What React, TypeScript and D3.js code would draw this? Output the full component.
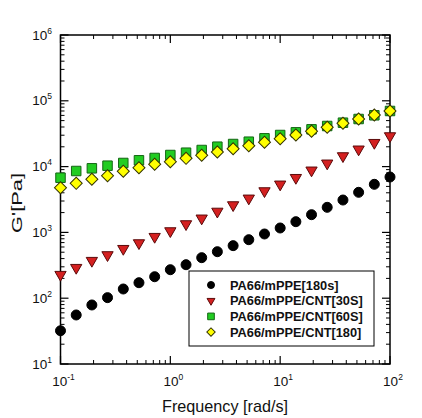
import React from "react";
import * as d3 from "d3";

const freq = [0.1, 0.139, 0.193, 0.268, 0.373, 0.518, 0.72, 1, 1.39, 1.93, 2.68, 3.73, 5.18, 7.2, 10, 13.9, 19.3, 26.8, 37.3, 51.8, 72, 100];

const seriesNames = ["PA66/mPPE[180s]", "PA66/mPPE/CNT[30S]", "PA66/mPPE/CNT[60S]", "PA66/mPPE/CNT[180]"];

const gBlack = [32, 55.6, 78.9, 102, 138, 172, 212, 271, 323, 413, 509, 629, 775, 946, 1167, 1455, 1859, 2405, 3105, 4065, 5380, 6950];
const gRed = [228, 291, 372, 454, 565, 690, 861, 1050, 1342, 1638, 2080, 2608, 3296, 4257, 5380, 6776, 8790, 11230, 14490, 18330, 23070, 29170];
const gGreen = [6776, 8570, 9420, 10320, 11350, 12470, 13520, 15000, 16260, 17870, 20060, 22030, 23890, 26910, 30200, 33190, 36870, 41400, 46490, 52870, 60240, 70000];
const gYellow = [4775, 5570, 6410, 7270, 8490, 9620, 10840, 11870, 13360, 14850, 16670, 18710, 20790, 23400, 26550, 30200, 34420, 39550, 45500, 52870, 60850, 70000];

const xMajor = [0.1, 1, 10, 100];
const xExp = ["-1", "0", "1", "2"];
const yMajor = [10, 100, 1000, 1e4, 1e5, 1e6];
const yExp = ["1", "2", "3", "4", "5", "6"];

const W = 422, H = 418;
const L = 60.5, R = 390, T = 35, B = 364;
const FONT = "'Liberation Sans', Arial, sans-serif";

const x = d3.scaleLog().domain([0.1, 100]).range([L, R]);
const y = d3.scaleLog().domain([10, 1e6]).range([B, T]);

function minors(lo: number, hi: number) {
  const out: number[] = [];
  for (let d = lo; d < hi; d *= 10) for (let k = 2; k <= 9; k++) out.push(d * k);
  return out;
}

type Style = { fill: string; stroke: string; shape: string };
const styles: Style[] = [
  { fill: "#000000", stroke: "#000000", shape: "circle" },
  { fill: "#d42020", stroke: "#5a0a0a", shape: "tri" },
  { fill: "#22cc22", stroke: "#146614", shape: "square" },
  { fill: "#ffff00", stroke: "#333300", shape: "diamond" },
];
const data = [gBlack, gRed, gGreen, gYellow];

function Marker({ cx, cy, st, s }: { cx: number; cy: number; st: Style; s: number }) {
  let path: string;
  if (st.shape === "circle") path = d3.symbol(d3.symbolCircle, Math.PI * (5 * s) ** 2)() as string;
  else if (st.shape === "square") path = d3.symbol(d3.symbolSquare, (9.5 * s) ** 2)() as string;
  else if (st.shape === "diamond") path = d3.symbol(d3.symbolSquare, (8.5 * s) ** 2)() as string;
  else path = d3.symbol(d3.symbolTriangle, 55 * s * s)() as string;
  const rot = st.shape === "diamond" ? 45 : st.shape === "tri" ? 180 : 0;
  return (
    <path
      d={path}
      transform={`translate(${cx},${cy}) rotate(${rot})`}
      fill={st.fill}
      stroke={st.stroke}
      strokeWidth={1}
    />
  );
}

export default function App() {
  const xMin = minors(0.1, 100);
  const yMin = minors(10, 1e6);
  const legX = 189, legY = 271, legW = 185, legH = 75;
  return (
    <svg width={W} height={H} style={{ position: "absolute", left: 0, top: 0, background: "#fff" }} fontFamily={FONT}>
      <rect x={0} y={0} width={W} height={H} fill="#fff" />
      {/* ticks */}
      {xMajor.map((v) => (
        <g key={"xm" + v}>
          <line x1={x(v)} x2={x(v)} y1={B} y2={B - 8} stroke="#000" strokeWidth={1.2} />
          <line x1={x(v)} x2={x(v)} y1={T} y2={T + 8} stroke="#000" strokeWidth={1.2} />
        </g>
      ))}
      {xMin.map((v) => (
        <g key={"xn" + v}>
          <line x1={x(v)} x2={x(v)} y1={B} y2={B - 4} stroke="#000" strokeWidth={1} />
          <line x1={x(v)} x2={x(v)} y1={T} y2={T + 4} stroke="#000" strokeWidth={1} />
        </g>
      ))}
      {yMajor.map((v) => (
        <g key={"ym" + v}>
          <line x1={L} x2={L + 8} y1={y(v)} y2={y(v)} stroke="#000" strokeWidth={1.2} />
          <line x1={R} x2={R - 8} y1={y(v)} y2={y(v)} stroke="#000" strokeWidth={1.2} />
        </g>
      ))}
      {yMin.map((v) => (
        <g key={"yn" + v}>
          <line x1={L} x2={L + 4} y1={y(v)} y2={y(v)} stroke="#000" strokeWidth={1} />
          <line x1={R} x2={R - 4} y1={y(v)} y2={y(v)} stroke="#000" strokeWidth={1} />
        </g>
      ))}
      <rect x={L} y={T} width={R - L} height={B - T} fill="none" stroke="#000" strokeWidth={1.5} />
      {/* tick labels */}
      {yMajor.map((v, i) => (
        <text key={"yl" + v} x={52} y={y(v) + 4.5} textAnchor="end" fontSize={13.5} fill="#111">
          10
          <tspan dy={-6} fontSize={8.5}>{yExp[i]}</tspan>
        </text>
      ))}
      {xMajor.map((v, i) => (
        <text key={"xl" + v} x={x(v) + 3} y={386} textAnchor="middle" fontSize={13.5} fill="#111">
          10
          <tspan dy={-6} fontSize={8.5}>{xExp[i]}</tspan>
        </text>
      ))}
      <text x={225} y={411.5} textAnchor="middle" fontSize={16.2} fill="#111">Frequency [rad/s]</text>
      <text
        transform={`translate(22,203) rotate(-90)`}
        textAnchor="middle"
        fontSize={15.5}
        textLength={60}
        lengthAdjust="spacingAndGlyphs"
        fill="#111"
      >
        G'[Pa]
      </text>
      {/* data */}
      {data.map((s, si) => (
        <g key={"s" + si}>
          {s.map((g, i) => (
            <Marker key={i} cx={x(freq[i])} cy={y(g)} st={styles[si]} s={1} />
          ))}
        </g>
      ))}
      {/* legend */}
      <rect x={legX} y={legY} width={legW} height={legH} fill="#fff" stroke="#000" strokeWidth={1} />
      {seriesNames.map((n, i) => (
        <g key={"lg" + i}>
          <Marker cx={211} cy={285 + i * 15.7} st={styles[i]} s={0.7} />
          <text x={230} y={285 + i * 15.7 + 4.5} fontSize={12.8} fontWeight="bold" fill="#111">{n}</text>
        </g>
      ))}
    </svg>
  );
}
